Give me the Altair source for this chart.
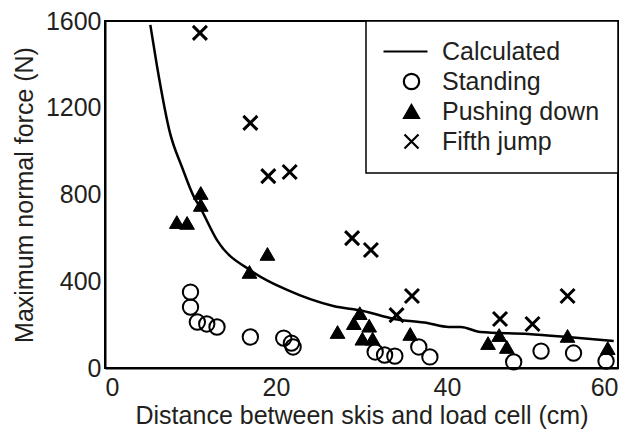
import altair as alt
import pandas as pd

# Calculated curve
calc_x = [5.3, 6.1, 7.6, 9.0, 10.4, 11.1, 13.1, 17.3, 21.3, 26.7, 30.2, 33.8, 37.7, 40.2, 41.6, 43.9, 49.5, 54.1, 59.5]
calc_y = [1582, 1388, 1084, 927, 789, 742, 590, 443, 360, 286, 263, 226, 207, 189, 189, 166, 157, 143, 124]

# Standing (open circles)
stand_x = [10.0, 10.0, 10.8, 11.9, 13.1, 17.0, 20.9, 21.8, 22.0, 31.6, 32.7, 33.9, 36.7, 38.0, 47.8, 51.0, 54.8, 58.6]
stand_y = [350, 281, 212, 203, 189, 143, 138, 115, 97, 74, 60, 55, 97, 51, 28, 78, 69, 32]

# Pushing down (filled triangles)
push_x = [8.4, 9.6, 11.2, 11.2, 16.9, 19.0, 27.2, 29.1, 29.8, 30.1, 30.9, 31.3, 35.7, 44.8, 46.1, 47.0, 54.1, 58.8]
push_y = [673, 669, 807, 752, 443, 526, 166, 207, 253, 135, 195, 135, 157, 115, 152, 97, 148, 92]

# Fifth jump (x marks)
jump_x = [11.1, 17.0, 19.1, 21.6, 28.9, 31.1, 35.9, 34.1, 46.2, 50.0, 54.1]
jump_y = [1545, 1130, 885, 904, 599, 544, 332, 244, 226, 203, 332]

series = ["Calculated", "Standing", "Pushing down", "Fifth jump"]
x_ticks = [0, 20, 40, 60]
y_ticks = [0, 400, 800, 1200, 1600]

calc_df = pd.DataFrame({"x": calc_x, "y": calc_y})
stand_df = pd.DataFrame({"x": stand_x, "y": stand_y, "series": "Standing"})
push_df = pd.DataFrame({"x": push_x, "y": push_y, "series": "Pushing down"})
jump_df = pd.DataFrame({"x": jump_x, "y": jump_y, "series": "Fifth jump"})

FONT = "Liberation Sans"
FS = 25
INK = "#231f20"

xscale = alt.Scale(domain=[0, 60], nice=False, zero=False)
yscale = alt.Scale(domain=[0, 1600], nice=False)

xaxis = alt.Axis(values=x_ticks, title="Distance between skis and load cell (cm)", grid=False, ticks=False,
                 labelPadding=7, titlePadding=3, domainColor="black", domainWidth=2, format="d")
yaxis = alt.Axis(values=y_ticks, title="Maximum normal force (N)", grid=False, ticks=False,
                 labelPadding=4, titleX=-81, titleBaseline="middle",
                 domainColor="black", domainWidth=2, format="d")

line = alt.Chart(calc_df).mark_line(color="black", strokeWidth=2.5, interpolate="monotone").encode(
    x=alt.X("x:Q", scale=xscale, axis=xaxis),
    y=alt.Y("y:Q", scale=yscale, axis=yaxis),
)

leg = alt.Legend(title=None, orient="top-right", offset=0, padding=18, rowPadding=4,
                 labelFont=FONT, labelFontSize=FS, labelColor=INK,
                 symbolOffset=15, labelOffset=18, symbolStrokeColor="black", symbolStrokeWidth=2.2)

line_path = "M-3.5,0L2,0"
x_path = "M-1,-1L1,1M-1,1L1,-1"

enc = dict(
    x=alt.X("x:Q", scale=xscale),
    y=alt.Y("y:Q", scale=yscale),
    shape=alt.Shape("series:N", scale=alt.Scale(domain=series, range=[line_path, "circle", "triangle-up", x_path]), legend=leg),
    fill=alt.Fill("series:N", scale=alt.Scale(domain=series, range=["transparent", "transparent", "black", "transparent"]), legend=leg),
    stroke=alt.Stroke("series:N", scale=alt.Scale(domain=series, range=["black", "black", "black", "black"]), legend=leg),
    size=alt.Size("series:N", scale=alt.Scale(domain=series, range=[256, 196, 256, 60]), legend=leg),
)

stand = alt.Chart(stand_df).mark_point(opacity=1, strokeWidth=2).encode(**enc)
push = alt.Chart(push_df).mark_point(opacity=1, strokeWidth=1).encode(**enc)
jump = alt.Chart(jump_df).mark_point(opacity=1, strokeWidth=3).encode(**enc)

chart = alt.layer(line, stand, push, jump).properties(
    width=513, height=347,
    autosize=alt.AutoSizeParams(type="none"),
    padding={"left": 97, "top": 13, "right": 8, "bottom": 62},
).configure_view(stroke="black", strokeWidth=2).configure_axis(
    labelFont=FONT, labelFontSize=FS, labelColor=INK,
    titleFont=FONT, titleFontSize=FS, titleColor=INK, titleFontWeight="normal",
).configure_legend(strokeColor="black", strokeWidth=1.5, fillColor="white")

chart.save("out.html", embed_options={"renderer": "svg", "actions": False})
